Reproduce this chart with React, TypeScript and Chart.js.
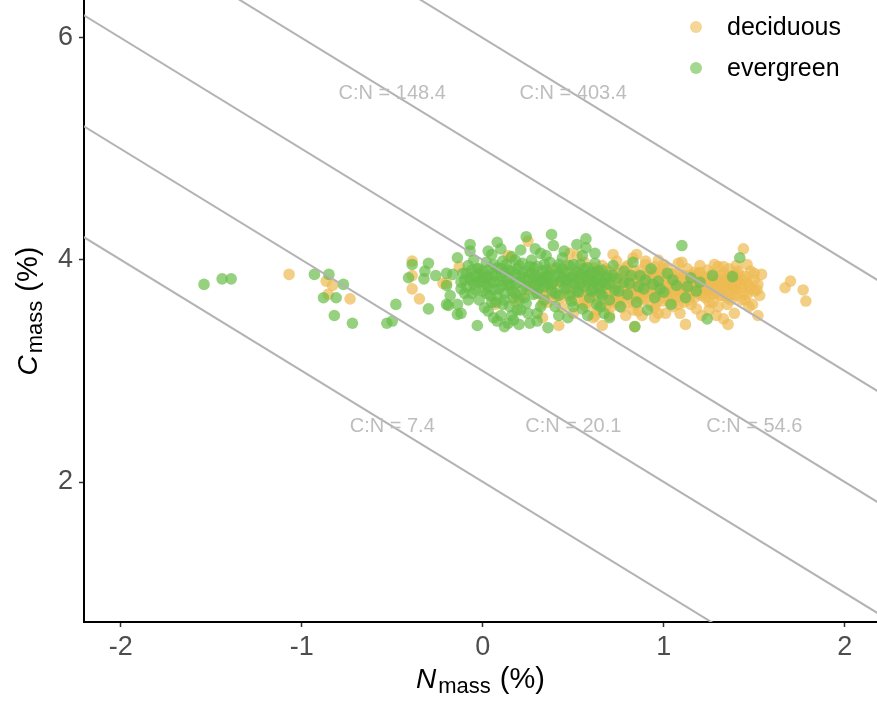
import React, { useEffect, useRef } from 'react';
import { Chart, registerables } from 'chart.js';

Chart.register(...registerables);

const FONT = "'Liberation Sans', Arial, Helvetica, sans-serif";

// C:N reference lines and their label positions (N, C)
const cnRatios = [7.4, 20.1, 54.6, 148.4, 403.4];
const cnLabelN = [-0.5, 0.5, 1.5, -0.5, 0.5];
const cnLabelC = [2.5, 2.5, 2.5, 5.5, 5.5];

const xTicks = [-2, -1, 0, 1, 2];
const yTicks = [2, 4, 6];
const xRange = [-2.203, 2.178];
const yRange = [0.739, 6.342];

const seriesNames = ['deciduous', 'evergreen'];

// [Nmass, Cmass]
const deciduous: number[][] = [
  [-1.07, 3.87], [-0.865, 3.81], [-0.83, 3.77], [-0.854, 3.69], [-0.733, 3.65],
  [-0.39, 3.99], [-0.39, 3.86], [-0.39, 3.74], [-0.35, 3.65], [-0.2, 3.79], [-0.13, 3.94], [-0.22, 3.79],
  [0.14, 4.04], [0.25, 4.17], [0.15, 4.02], [0.07, 3.6], [0.17, 3.72], [0.33, 3.48], [0.42, 3.41],
  [0.48, 4.06], [0.52, 4.04], [0.26, 3.74], [0.37, 3.75], [0.41, 3.68], [0.33, 3.61], [0.55, 3.6],
  [0.62, 3.5], [0.61, 3.48], [0.66, 3.41], [0.84, 3.4], [0.72, 4.05], [0.85, 4.05], [0.95, 3.48],
  [0.3, 3.79], [0.32, 3.7], [0.34, 3.85], [0.36, 3.62], [0.37, 3.75], [0.39, 3.92], [0.41, 3.68],
  [0.42, 3.8], [0.44, 3.57], [0.45, 3.88], [0.46, 3.72], [0.47, 3.96], [0.48, 3.65], [0.49, 3.83],
  [0.5, 3.52], [0.51, 3.77], [0.52, 3.9], [0.53, 3.63], [0.54, 3.81], [0.55, 3.71], [0.56, 3.98],
  [0.57, 3.58], [0.58, 3.76], [0.59, 3.87], [0.6, 3.68], [0.61, 3.93], [0.62, 3.79], [0.63, 3.55],
  [0.64, 3.84], [0.65, 3.73], [0.66, 3.95], [0.67, 3.62], [0.68, 3.82], [0.69, 3.69], [0.7, 3.9],
  [0.7, 3.5], [0.71, 3.77], [0.72, 3.86], [0.73, 3.64], [0.74, 3.99], [0.75, 3.74], [0.76, 3.83],
  [0.77, 3.57], [0.78, 3.7], [0.79, 3.93], [0.8, 3.79], [0.8, 3.62], [0.81, 3.87], [0.82, 3.73],
  [0.83, 4.02], [0.84, 3.67], [0.85, 3.81], [0.86, 3.54], [0.87, 3.91], [0.88, 3.76], [0.89, 3.85],
  [0.9, 3.65], [0.9, 3.96], [0.91, 3.72], [0.92, 3.84], [0.93, 3.59], [0.94, 3.78], [0.95, 3.89],
  [0.96, 3.69], [0.97, 4.0], [0.98, 3.75], [0.99, 3.63], [1.0, 3.86], [1.0, 3.8], [1.01, 3.52],
  [1.02, 3.93], [1.03, 3.71], [1.04, 3.82], [1.05, 3.66], [1.06, 3.88], [1.07, 3.74], [1.08, 3.97],
  [1.08, 3.6], [1.09, 3.81], [1.1, 3.69], [1.11, 3.86], [1.12, 3.42], [1.12, 3.77], [1.13, 3.92],
  [1.14, 3.64], [1.15, 3.83], [1.16, 3.71], [1.17, 3.89], [1.18, 3.56], [1.19, 3.79], [1.2, 3.95],
  [1.21, 3.68], [1.22, 3.85], [1.23, 3.74], [1.24, 3.91], [1.25, 3.62], [1.26, 3.8], [1.27, 3.7],
  [1.28, 3.96], [1.29, 3.77], [1.3, 3.58], [1.31, 3.86], [1.32, 3.73], [1.33, 3.47], [1.34, 3.83],
  [1.35, 3.66], [1.355, 3.42], [1.36, 3.92], [1.37, 3.78], [1.38, 3.69], [1.39, 3.87], [1.4, 3.74],
  [1.41, 3.81], [1.43, 3.64], [1.44, 4.1], [1.45, 3.85], [1.46, 3.69], [1.47, 3.77], [1.48, 3.9],
  [1.5, 3.72], [1.515, 3.73], [1.52, 3.5], [1.54, 3.87], [1.67, 3.75], [1.7, 3.81], [1.77, 3.73],
  [1.785, 3.63],
  [0.55, 3.85], [0.58, 3.7], [0.6, 3.8], [0.63, 3.74], [0.65, 3.86], [0.67, 3.77], [0.69, 3.81],
  [0.72, 3.71], [0.74, 3.79], [0.76, 3.88], [0.78, 3.76], [0.81, 3.69], [0.83, 3.83], [0.85, 3.74],
  [0.87, 3.8], [0.89, 3.7], [0.92, 3.76], [0.94, 3.86], [0.96, 3.8], [0.98, 3.88], [1.01, 3.74],
  [1.03, 3.83], [1.05, 3.78], [1.07, 3.83], [1.09, 3.72], [1.11, 3.79], [1.13, 3.86], [1.15, 3.75],
  [1.17, 3.81], [1.19, 3.7], [1.21, 3.78], [1.23, 3.84], [1.25, 3.76], [1.27, 3.88], [1.29, 3.72],
  [1.31, 3.79], [1.33, 3.88], [1.35, 3.76], [1.37, 3.85], [1.39, 3.73], [1.42, 3.78], [1.44, 3.82],
  [0.62, 3.68], [0.66, 3.72], [0.7, 3.76], [0.73, 3.84], [0.77, 3.66], [0.79, 3.85], [0.82, 3.78],
  [0.84, 3.9], [0.86, 3.7], [0.88, 3.82], [0.91, 3.79], [0.93, 3.68], [0.95, 3.74], [0.97, 3.84],
  [0.99, 3.77], [1.02, 3.7], [1.04, 3.87], [1.06, 3.81], [1.08, 3.76], [1.1, 3.84], [1.12, 3.68],
  [1.14, 3.8], [1.16, 3.78], [1.18, 3.85], [1.2, 3.74], [1.22, 3.8], [1.24, 3.72], [1.26, 3.84],
  [1.28, 3.78], [1.3, 3.82], [1.32, 3.68], [1.34, 3.77], [1.36, 3.8], [1.38, 3.76], [1.4, 3.83],
  [1.43, 3.75], [0.71, 3.58], [0.75, 3.62], [0.85, 3.6], [0.95, 3.57], [1.05, 3.58], [1.15, 3.6],
  [1.25, 3.55], [1.35, 3.6], [0.8, 3.95], [0.9, 3.99], [1.0, 3.96], [1.1, 3.98], [1.2, 3.89],
  [1.3, 3.94], [1.4, 3.95], [1.46, 3.96], [1.49, 3.6], [1.47, 3.58],
  [0.47, 3.82], [0.5, 3.74], [0.53, 3.88], [0.56, 3.66], [0.59, 3.79], [0.61, 3.85], [0.64, 3.62],
  [0.66, 3.78], [0.68, 3.92], [0.71, 3.68], [0.73, 3.79], [0.75, 3.91], [0.77, 3.81], [0.79, 3.72],
  [0.82, 3.64], [0.84, 3.76], [0.86, 3.86], [0.88, 3.64], [0.9, 3.77], [0.92, 3.9], [0.94, 3.71],
  [0.96, 3.62], [0.98, 3.7], [1.0, 3.66], [1.02, 3.78], [1.04, 3.74], [1.06, 3.7], [1.08, 3.88],
  [1.1, 3.76], [1.12, 3.83], [1.14, 3.72], [1.16, 3.86], [1.18, 3.78], [1.2, 3.82], [1.22, 3.7],
  [1.24, 3.8], [1.26, 3.74], [1.28, 3.7], [1.3, 3.74], [1.32, 3.8], [1.34, 3.7], [1.36, 3.86],
  [1.38, 3.82], [1.4, 3.68], [1.42, 3.86], [1.44, 3.7], [1.46, 3.8], [1.48, 3.74], [1.5, 3.82],
  [1.52, 3.78], [0.58, 3.62], [0.63, 3.9], [0.68, 3.58], [0.72, 3.62], [0.76, 3.68], [0.8, 3.86],
  [0.83, 3.55], [0.87, 3.66], [0.91, 3.86], [0.95, 3.94], [0.99, 3.92], [1.03, 3.62], [1.07, 3.66],
  [1.11, 3.62], [1.13, 3.74], [1.17, 3.66], [1.19, 3.88], [1.23, 3.66], [1.27, 3.62], [1.31, 3.68],
  [1.33, 3.94], [1.37, 3.64], [1.41, 3.9], [1.45, 3.64], [1.5, 3.88], [1.53, 3.68], [0.97, 3.52],
  [1.09, 3.52], [1.21, 3.5], [0.88, 3.5], [0.79, 3.5], [1.29, 3.5], [1.39, 3.52],
  [0.35, 3.7], [0.4, 3.78], [0.43, 3.66], [0.45, 3.8], [0.38, 3.65], [0.28, 3.77], [0.22, 3.68],
  [0.18, 3.63], [0.5, 3.69], [0.53, 3.76],
];

const evergreen: number[][] = [
  [-1.54, 3.78], [-1.44, 3.83], [-1.39, 3.83], [-0.93, 3.87], [-0.85, 3.87], [-0.77, 3.78],
  [-0.88, 3.66], [-0.81, 3.66], [-0.82, 3.5], [-0.72, 3.43], [-0.53, 3.43], [-0.5, 3.45],
  [-0.48, 3.6], [-0.39, 3.96], [-0.41, 3.84], [-0.3, 3.56], [-0.3, 3.97], [-0.32, 3.9],
  [-0.26, 3.86], [-0.325, 3.83], [-0.2, 3.88], [-0.2, 3.77], [-0.14, 4.02], [-0.12, 3.74],
  [-0.18, 3.68], [-0.2, 3.6], [-0.14, 3.6], [-0.14, 3.51], [-0.12, 3.52], [-0.07, 4.14],
  [-0.07, 4.08], [-0.165, 3.87], [-0.09, 3.88], [-0.03, 3.92], [-0.03, 3.41], [-0.19, 3.59],
  [0.01, 3.57],
  [-0.1, 3.82], [-0.08, 3.95], [-0.06, 3.7], [-0.05, 3.78], [-0.04, 3.86], [-0.02, 3.64],
  [-0.01, 3.81], [0.0, 3.9], [0.0, 3.72], [0.02, 3.84], [0.02, 3.98], [0.03, 3.76],
  [0.04, 3.68], [0.05, 3.88], [0.05, 4.05], [0.06, 3.8], [0.07, 3.62], [0.08, 3.93], [0.08, 4.16],
  [0.08, 3.45], [0.09, 3.74], [0.1, 3.85], [0.1, 3.5], [0.11, 3.99], [0.12, 3.7], [0.13, 3.82],
  [0.14, 3.43], [0.14, 3.91], [0.15, 3.77], [0.16, 4.03], [0.17, 3.66], [0.18, 3.87], [0.19, 3.55],
  [0.2, 3.8], [0.2, 3.95], [0.21, 4.09], [0.22, 3.73], [0.23, 3.84], [0.24, 4.21], [0.24, 3.61],
  [0.25, 3.9], [0.26, 3.43], [0.26, 3.78], [0.27, 4.0], [0.28, 3.69], [0.29, 3.86], [0.3, 3.94],
  [0.3, 3.52], [0.31, 3.75], [0.32, 4.06], [0.33, 3.82], [0.34, 3.64], [0.35, 3.91], [0.36, 3.39],
  [0.36, 3.79], [0.37, 3.98], [0.38, 4.23], [0.38, 3.72], [0.39, 4.13], [0.4, 3.86], [0.4, 3.58],
  [0.41, 3.93], [0.42, 3.68], [0.43, 3.81], [0.44, 4.02], [0.45, 3.75], [0.46, 3.89], [0.47, 3.48],
  [0.48, 3.84], [0.49, 3.63], [0.5, 3.96], [0.51, 3.78], [0.52, 4.14], [0.53, 3.71], [0.54, 3.87],
  [0.55, 3.56], [0.56, 3.92], [0.57, 4.19], [0.57, 4.11], [0.58, 3.8], [0.59, 3.66], [0.6, 3.89],
  [0.61, 3.74], [0.62, 3.97], [0.63, 3.6], [0.64, 3.83], [0.65, 3.7], [0.66, 3.91], [0.67, 3.52],
  [0.68, 3.78], [0.69, 3.86], [0.7, 3.64], [0.72, 3.95], [0.73, 3.73], [0.74, 3.83], [0.76, 3.58],
  [0.78, 3.9], [0.8, 3.69], [0.81, 3.79], [0.83, 3.98], [0.84, 3.4], [0.85, 3.62], [0.87, 3.86],
  [0.89, 3.74], [0.91, 3.55], [0.93, 3.92], [0.95, 3.66], [0.97, 3.81], [1.0, 3.71], [1.02, 3.88],
  [1.04, 3.6], [1.07, 3.77], [1.1, 4.13], [1.12, 3.66], [1.15, 3.84], [1.18, 3.72], [1.24, 3.47],
  [1.27, 3.86], [1.38, 3.85], [1.42, 4.02],
  [-0.12, 3.8], [-0.11, 3.88], [-0.09, 3.76], [-0.07, 3.84], [-0.06, 3.91], [-0.04, 3.73],
  [-0.03, 3.8], [-0.01, 3.87], [0.01, 3.79], [0.03, 3.85], [0.04, 3.92], [0.06, 3.73], [0.07, 3.86],
  [0.09, 3.81], [0.11, 3.77], [0.12, 3.89], [0.13, 3.96], [0.15, 3.84], [0.16, 3.72], [0.18, 3.79],
  [0.19, 3.92], [0.21, 3.85], [0.22, 3.97], [0.23, 3.66], [0.25, 3.82], [0.27, 3.88], [0.28, 3.93],
  [0.29, 3.77], [0.31, 3.84], [0.33, 3.9], [0.34, 3.76], [0.35, 3.85], [0.37, 3.88], [0.39, 3.8],
  [0.42, 3.87], [0.44, 3.92], [0.46, 3.82], [0.48, 3.95], [0.5, 3.86], [0.52, 3.89], [0.54, 3.79],
  [0.56, 3.84], [0.58, 3.93], [0.6, 3.82], [0.62, 3.88], [0.64, 3.76], [0.66, 3.8], [0.03, 3.54],
  [0.06, 3.48], [0.11, 3.6], [0.16, 3.5], [0.21, 3.55], [0.17, 3.46], [0.12, 3.4],
  [-0.1, 3.7], [-0.08, 3.64], [-0.06, 3.82], [-0.02, 3.92], [0.0, 3.84], [0.02, 3.7], [0.04, 3.8],
  [0.06, 3.96], [0.08, 3.68], [0.1, 3.92], [0.12, 3.64], [0.14, 3.78], [0.16, 3.9], [0.18, 3.7],
  [0.2, 3.64], [0.22, 3.88], [0.24, 3.76], [0.26, 3.94], [0.28, 3.84], [0.3, 3.7], [0.32, 3.8],
  [0.34, 3.96], [0.36, 3.86], [0.38, 3.78], [0.4, 3.7], [0.42, 3.96], [0.44, 3.84], [0.46, 3.74],
  [0.48, 3.68], [0.5, 3.8], [0.52, 3.72], [0.54, 3.96], [0.56, 3.76], [0.58, 3.86], [0.6, 3.72],
  [0.62, 3.8], [0.64, 3.9], [0.66, 3.68], [0.68, 3.84], [0.7, 3.78], [0.72, 3.86], [0.75, 3.72],
  [0.78, 3.8], [0.82, 3.86], [0.86, 3.76], [0.9, 3.82], [0.94, 3.78], [0.98, 3.74], [1.05, 3.82],
  [1.13, 3.76], [1.2, 3.8], [-0.05, 4.0], [0.03, 4.08], [0.1, 4.1], [0.18, 4.0], [0.29, 4.1],
  [0.35, 4.04], [0.45, 4.08], [0.55, 4.04], [0.62, 4.06], [0.05, 3.62], [0.15, 3.58], [0.25, 3.52],
  [0.32, 3.58], [0.42, 3.5], [0.5, 3.58], [0.58, 3.5], [0.65, 3.58], [0.2, 3.42], [0.3, 3.45],
  [0.7, 3.48],
];

const decColor = 'rgba(238,186,82,0.7)';
const everColor = 'rgba(104,190,72,0.7)';
const lineColor = '#B3B3B3';
const labelColor = '#BDBDBD';

const toPts = (arr: number[][]) => arr.map(([x, y]) => ({ x, y }));

const overlayPlugin = {
  id: 'overlay',
  afterDatasetsDraw(chart: any) {
    const { ctx, scales } = chart;
    const xs = scales.x;
    const ys = scales.y;
    ctx.save();
    ctx.font = `20px ${FONT}`;
    ctx.fillStyle = labelColor;
    ctx.textAlign = 'center';
    ctx.textBaseline = 'middle';
    cnRatios.forEach((r, i) => {
      ctx.fillText(`C:N = ${r.toFixed(1)}`, xs.getPixelForValue(cnLabelN[i]), ys.getPixelForValue(cnLabelC[i]));
    });
    ctx.restore();
  },
  afterDraw(chart: any) {
    const { ctx, chartArea } = chart;
    ctx.save();
    const legColors = ['rgba(238,186,82,0.6)', 'rgba(104,190,72,0.6)'];
    const legY = [27, 68];
    ctx.textAlign = 'left';
    ctx.textBaseline = 'middle';
    ctx.font = `25px ${FONT}`;
    seriesNames.forEach((n, i) => {
      ctx.fillStyle = legColors[i];
      ctx.beginPath();
      ctx.arc(696, legY[i], 6, 0, Math.PI * 2);
      ctx.fill();
      ctx.fillStyle = '#000';
      ctx.fillText(n, 727, legY[i] + 1);
    });

    const drawTitle = (main: string, sub: string) => {
      ctx.font = `italic 28px ${FONT}`;
      const w1 = ctx.measureText(main).width;
      ctx.font = `22px ${FONT}`;
      const w2 = ctx.measureText(sub).width;
      ctx.font = `29px ${FONT}`;
      const w3 = ctx.measureText('(%)').width;
      const g1 = 2, g2 = 9;
      const total = w1 + g1 + w2 + g2 + w3;
      let x = -total / 2;
      ctx.fillStyle = '#000';
      ctx.textAlign = 'left';
      ctx.textBaseline = 'alphabetic';
      ctx.font = `italic 28px ${FONT}`;
      ctx.fillText(main, x, 0);
      x += w1 + g1;
      ctx.font = `22px ${FONT}`;
      ctx.fillText(sub, x, 5);
      x += w2 + g2;
      ctx.font = `29px ${FONT}`;
      ctx.fillText('(%)', x, 0);
    };
    ctx.save();
    ctx.translate((chartArea.left + chartArea.right) / 2, 688);
    drawTitle('N', 'mass');
    ctx.restore();
    ctx.save();
    ctx.translate(37, (chartArea.top + chartArea.bottom) / 2);
    ctx.rotate(-Math.PI / 2);
    drawTitle('C', 'mass');
    ctx.restore();
    ctx.restore();
  },
};

export default function App() {
  const ref = useRef<HTMLCanvasElement>(null);
  useEffect(() => {
    if (!ref.current) return;
    const lineSets = cnRatios.map((r) => {
      const c = Math.log(r);
      return {
        type: 'line' as const,
        data: [
          { x: -3, y: c + 3 },
          { x: 3, y: c - 3 },
        ],
        borderColor: lineColor,
        borderWidth: 2,
        pointRadius: 0,
        showLine: true,
        fill: false,
        order: 0,
      };
    });
    const chart = new Chart(ref.current, {
      type: 'scatter',
      data: {
        datasets: [
          ...lineSets,
          {
            label: seriesNames[1],
            data: toPts(evergreen),
            backgroundColor: everColor,
            borderWidth: 0,
            pointRadius: 5.8,
            order: 1,
          },
          {
            label: seriesNames[0],
            data: toPts(deciduous),
            backgroundColor: decColor,
            borderWidth: 0,
            pointRadius: 5.8,
            order: 2,
          },
        ] as any,
      },
      options: {
        animation: false,
        responsive: false,
        devicePixelRatio: 1,
        layout: { padding: 0, autoPadding: false },
        plugins: { legend: { display: false }, tooltip: { enabled: false }, title: { display: false } },
        scales: {
          x: {
            type: 'linear',
            min: xRange[0],
            max: xRange[1],
            afterBuildTicks: (s: any) => {
              s.ticks = xTicks.map((v) => ({ value: v }));
            },
            afterFit: (s: any) => {
              s.height = 89;
              s.paddingLeft = 0;
              s.paddingRight = 0;
            },
            grid: {
              drawOnChartArea: false,
              drawTicks: true,
              tickLength: 5,
              tickColor: '#333333',
              tickWidth: 1.5,
            },
            border: { display: true, color: '#000', width: 2 },
            ticks: {
              font: { size: 27, family: FONT },
              color: '#4D4D4D',
              padding: 4,
              maxRotation: 0,
              autoSkip: false,
              callback: (v: any) => String(v),
            },
          },
          y: {
            type: 'linear',
            min: yRange[0],
            max: yRange[1],
            afterBuildTicks: (s: any) => {
              s.ticks = yTicks.map((v) => ({ value: v }));
            },
            afterFit: (s: any) => {
              s.width = 84;
              s.paddingTop = 0;
              s.paddingBottom = 0;
            },
            grid: {
              drawOnChartArea: false,
              drawTicks: true,
              tickLength: 5,
              tickColor: '#333333',
              tickWidth: 1.5,
            },
            border: { display: true, color: '#000', width: 2 },
            ticks: {
              font: { size: 27, family: FONT },
              color: '#4D4D4D',
              padding: 6,
              autoSkip: false,
              callback: (v: any) => String(v),
            },
          },
        },
      },
      plugins: [overlayPlugin],
    });
    return () => chart.destroy();
  }, []);
  return (
    <div style={{ position: 'fixed', left: 0, top: 0, width: 877, height: 711, background: '#fff' }}>
      <canvas ref={ref} width={877} height={711} style={{ display: 'block' }} />
    </div>
  );
}
